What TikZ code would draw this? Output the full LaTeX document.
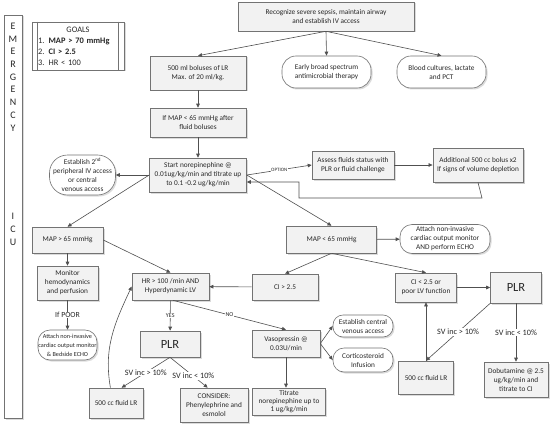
\documentclass[tikz,border=0pt]{standalone}
\usepackage{fontspec}
\setmainfont{Carlito}
\usepackage{tikz}
\usetikzlibrary{calc,positioning,arrows.meta,shadows}
\definecolor{SepsisLine}{RGB}{80,80,80}
\definecolor{SepsisEdge}{RGB}{115,115,115}
\definecolor{SepsisFill}{RGB}{242,242,242}
\definecolor{SepsisText}{RGB}{40,40,40}
\definecolor{SepsisShade}{RGB}{185,185,185}

\tikzset{
  stepbox/.style={draw=SepsisEdge, fill=SepsisFill, text=SepsisText, align=center,
    inner sep=1pt, line width=0.6pt, font=\fontsize{7.3}{9}\selectfont,
    drop shadow={shadow xshift=1.5pt, shadow yshift=-1.5pt, fill=SepsisShade}},
  ovalbox/.style={stepbox, fill=white, rounded corners=12pt},
  plrbox/.style={stepbox, font=\fontsize{12.5}{14}\selectfont},
  arr/.style={draw=SepsisLine, line width=0.6pt, -{Triangle[length=4pt,width=3.6pt]}},
  lbl/.style={fill=white, inner sep=0.6pt, text=SepsisText, font=\fontsize{6}{6}\selectfont},
  svlbl/.style={fill=white, inner sep=1pt, text=SepsisText, font=\fontsize{8.2}{9}\selectfont},
}

\begin{document}
\begin{tikzpicture}[x=1pt,y=-1pt]
  \fill[white] (0,0) rectangle (553,425);
  \useasboundingbox (0,0) rectangle (553,425);

  % stage bar and goals
  \node[stepbox, fill=white, minimum width=18pt, minimum height=403pt] (stagebar) at (13,216.5) {};
  \node[text=SepsisText, align=center, font=\fontsize{10}{12.7}\selectfont] (emerg) at (13,77) {E\\M\\E\\R\\G\\E\\N\\C\\Y};
  \node[text=SepsisText, align=center, font=\fontsize{10}{13}\selectfont] (icu) at (13,229) {I\\C\\U};

  \node[stepbox, fill=white, minimum width=92pt, minimum height=48pt, text width=80pt, align=left,
    font=\fontsize{8.4}{11}\selectfont] (goals) at (78,46)
    {\makebox[\linewidth]{GOALS}\\1. \textbf{MAP > 70 mmHg}\\2. \textbf{CI > 2.5}\\3. HR < 100};
  \draw[SepsisEdge, line width=0.6pt] ($(goals.north west)+(6,0)$) -- ($(goals.south west)+(6,0)$);
  \draw[SepsisEdge, line width=0.6pt] ($(goals.north east)+(-6,0)$) -- ($(goals.south east)+(-6,0)$);

  % emergency part
  \node[stepbox, minimum width=176pt, minimum height=29pt] (recog) at (326,16.5)
    {Recognize severe sepsis, maintain airway\\and establish IV access};
  \node[stepbox, minimum width=96pt, minimum height=34pt] (bolus) at (198,73)
    {500 ml boluses of LR\\Max. of 20 ml/kg.};
  \node[ovalbox, rounded corners=14pt, minimum width=89pt, minimum height=32pt] (abx) at (326.5,72)
    {Early broad spectrum\\antimicrobial therapy};
  \node[ovalbox, rounded corners=14pt, minimum width=89pt, minimum height=32pt] (cultures) at (441.5,72)
    {Blood cultures, lactate\\and PCT};
  \node[stepbox, minimum width=96pt, minimum height=29pt] (mapfluid) at (198,122.5)
    {If MAP < 65 mmHg after\\fluid boluses};
  \node[stepbox, minimum width=97pt, minimum height=34pt] (norepi) at (198,175)
    {Start norepinephine @\\0.01ug/kg/min and titrate up\\to 0.1 -0.2 ug/kg/min};
  \node[ovalbox, rounded corners=18pt, minimum width=66pt, minimum height=40pt] (access) at (82.5,175)
    {Establish 2\textsuperscript{nd}\\peripheral IV access\\or central\\venous access};
  \node[stepbox, minimum width=82pt, minimum height=28pt] (assess) at (353,165)
    {Assess fluids status with\\PLR or fluid challenge};
  \node[stepbox, line width=0.9pt, minimum width=90pt, minimum height=34pt,
    drop shadow={shadow xshift=2pt, shadow yshift=-2pt, fill=SepsisShade}] (addbolus) at (478,165)
    {Additional 500 cc bolus x2\\If signs of volume depletion};
  \coordinate (loopR) at (482,198);
  \coordinate (loopL) at (299,198);
  \coordinate (loopT) at (299,182);

  % icu part
  \node[stepbox, minimum width=71pt, minimum height=26pt] (maphi) at (67.5,240) {MAP > 65 mmHg};
  \node[stepbox, minimum width=90pt, minimum height=27pt] (maplo) at (331.5,239.5) {MAP < 65 mmHg};
  \node[ovalbox, minimum width=90pt, minimum height=29pt, inner sep=0pt] (attachlo) at (445,239)
    {Attach non-invasive\\cardiac output monitor\\AND perform ECHO};
  \node[stepbox, minimum width=61pt, minimum height=34pt] (monitor) at (67.5,283)
    {Monitor\\hemodynamics\\and perfusion};
  \node[ovalbox, minimum width=59pt, minimum height=30pt, inner sep=0pt,
    font=\fontsize{6.2}{9}\selectfont] (attachhi) at (67.5,345)
    {Attach non-invasive\\cardiac output monitor\\\& Bedside ECHO};
  \node[stepbox, minimum width=77pt, minimum height=27pt] (hr) at (170.5,286.5)
    {HR > 100 /min AND\\Hyperdynamic LV};
  \node[stepbox, minimum width=66pt, minimum height=26pt] (cihi) at (285,287) {CI > 2.5};
  \node[stepbox, minimum width=61pt, minimum height=29pt] (cilo) at (426,287.5)
    {CI < 2.5 or\\poor LV function};
  \node[plrbox, minimum width=51pt, minimum height=31pt] (plrr) at (516,287.5) {PLR};
  \node[plrbox, minimum width=60pt, minimum height=26pt] (plrm) at (170,344) {PLR};
  \node[stepbox, minimum width=68pt, minimum height=27pt] (vaso) at (286,343.5)
    {Vasopressin @\\0.03U/min};
  \node[ovalbox, rounded corners=10pt, minimum width=60pt, minimum height=22pt] (central) at (363,326)
    {Establish central\\venous access};
  \node[ovalbox, rounded corners=11pt, minimum width=60pt, minimum height=24pt] (cortico) at (363,360)
    {Corticosteroid\\Infusion};
  \node[stepbox, minimum width=73pt, minimum height=27pt, font=\fontsize{7.3}{8.3}\selectfont] (titrate) at (289,401.5)
    {Titrate\\norepinephine up to\\1 ug/kg/min};
  \node[stepbox, minimum width=54pt, minimum height=30pt] (fluidm) at (116,403) {500 cc fluid LR};
  \node[stepbox, minimum width=68pt, minimum height=34pt] (consider) at (214,405)
    {CONSIDER:\\Phenylephrine and\\esmolol};
  \node[stepbox, minimum width=55pt, minimum height=33pt] (fluidr) at (426,377.5) {500 cc fluid LR};
  \node[stepbox, minimum width=64pt, minimum height=35pt] (dobut) at (516,379.5)
    {Dobutamine @ 2.5\\ug/kg/min and\\titrate to CI};

  % connectors
  \draw[arr] (recog.south) -- (bolus.north);
  \draw[arr] (recog.south) -- (abx.north);
  \draw[arr] (recog.south) -- (cultures.north);
  \draw[arr] (bolus) -- (mapfluid);
  \draw[arr] (mapfluid) -- (norepi);
  \draw[arr] (norepi.west) -- (access.east);
  \draw[arr] (norepi.west) -- (maphi.north);
  \draw[arr] (norepi.east) -- node[lbl, font=\fontsize{5}{6}\selectfont] (optlbl) {OPTION} (assess.west);
  \draw[arr] (norepi.east) -- (maplo.north);
  \draw[arr] (assess) -- (addbolus);
  \draw[arr] (addbolus.south) -- (loopR) -- (loopL) -- (loopT) -- (loopT -| norepi.east);

  \draw[arr] (maplo) -- (attachlo);
  \draw[arr] (maplo.south) -- (cihi.north);
  \draw[arr] (maplo.south) -- (cilo.north);
  \draw[arr] (cihi) -- (hr);
  \draw[arr] (cilo) -- (plrr);
  \draw[arr] (plrr.south west) -- node[svlbl] (svr1) {SV inc > 10\%} (fluidr.north);
  \draw[arr] (fluidr.north) -- (cilo.south);
  \draw[arr] (plrr) -- node[svlbl] (svr2) {SV inc < 10\%} (dobut);

  \draw[arr] (maphi) -- (monitor);
  \draw[arr] (monitor) -- node[lbl, font=\fontsize{7.8}{8}\selectfont] (poorlbl) {If POOR} (attachhi);
  \draw[arr] (maphi.east) -- (hr.north);
  \draw[arr] (hr) -- node[lbl] (yeslbl) {YES} (plrm);
  \draw[arr] (hr.-80) -- node[lbl] (nolbl) {NO} (vaso.north);
  \draw[arr] (plrm.south) -- node[svlbl] (svm1) {SV inc > 10\%} (fluidm.70);
  \draw[arr] (plrm.south) -- node[svlbl, pos=0.62] (svm2) {SV inc < 10\%} (consider.110);
  \draw[arr] (vaso.east) -- (central.west);
  \draw[arr] (vaso.east) -- (cortico.west);
  \draw[arr] (vaso.south) -- (vaso.south |- titrate.north);
  \draw[arr] (fluidm.110) to[out=100,in=245] (hr.west);
\end{tikzpicture}
\end{document}
